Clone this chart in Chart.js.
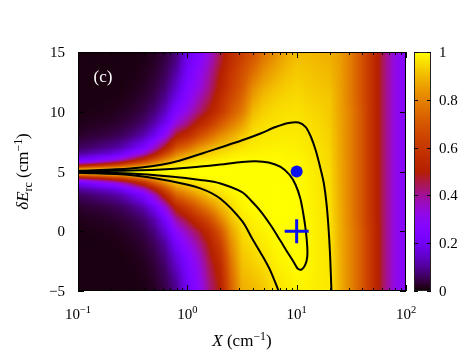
<!DOCTYPE html>
<html>
<head>
<meta charset="utf-8">
<script src="https://cdn.jsdelivr.net/npm/chart.js@4.4.1/dist/chart.umd.min.js"></script>
<style>
  html,body{margin:0;padding:0;background:#fff}
</style>
</head>
<body>
<canvas id="plot" width="469" height="358"></canvas>
<script>
// heatmap grid: column centres in X (cm^-1), row centres in dE_rc (cm^-1)
const xCenters = [0.1,0.126,0.158,0.2,0.251,0.316,0.398,0.501,0.631,0.794,1,1.26,1.58,2,2.51,3.16,3.98,5.01,6.31,7.94,10,12.6,15.8,20,25.1,31.6,39.8,50.1,63.1,79.4,100];
const yCenters = [15,14,13,12,11,10,9,8,7,6.5,6,5.75,5.5,5.25,5,4.75,4.5,4.25,4,3.5,3,2,1,0,-1,-2,-3,-4,-5];
// one array per X column, top row (15) first
const zByX = [
  [.01,.01,.01,.01,.01,.01,.015,.027,.059,.1,.2,.31,.5,.8,1,.8,.5,.31,.2,.1,.059,.027,.015,.01,.01,.01,.01,.01,.01],
  [.01,.01,.01,.01,.01,.012,.019,.033,.07,.12,.23,.35,.55,.83,1,.83,.55,.35,.23,.12,.07,.033,.019,.012,.01,.01,.01,.01,.01],
  [.01,.01,.01,.01,.01,.014,.022,.038,.083,.14,.27,.39,.59,.85,1,.85,.59,.39,.27,.14,.083,.038,.022,.014,.01,.01,.01,.01,.01],
  [.01,.01,.01,.01,.012,.017,.026,.046,.098,.16,.3,.44,.64,.88,1,.88,.64,.44,.3,.16,.098,.046,.026,.017,.012,.01,.01,.01,.01],
  [.01,.01,.01,.011,.015,.022,.034,.059,.12,.2,.36,.5,.69,.9,1,.9,.69,.5,.36,.2,.12,.059,.034,.022,.015,.011,.01,.01,.01],
  [.01,.01,.013,.016,.022,.031,.048,.083,.17,.27,.45,.59,.76,.93,1,.93,.76,.59,.45,.27,.17,.083,.048,.031,.022,.016,.013,.01,.01],
  [.012,.015,.018,.024,.033,.046,.07,.12,.23,.35,.55,.68,.83,.95,1,.95,.83,.68,.55,.35,.23,.12,.07,.046,.033,.024,.018,.015,.012],
  [.021,.025,.032,.041,.055,.078,.12,.19,.35,.48,.68,.79,.89,.97,1,.97,.9,.8,.69,.5,.36,.2,.12,.083,.059,.044,.034,.027,.022],
  [.038,.047,.059,.075,.1,.14,.2,.31,.5,.64,.8,.88,.94,.985,1,.987,.95,.89,.82,.67,.54,.34,.22,.16,.11,.086,.067,.054,.044],
  [.077,.094,.12,.15,.19,.25,.34,.49,.68,.79,.89,.94,.97,.99,1,.99,.98,.95,.91,.82,.72,.53,.39,.29,.22,.17,.14,.11,.093],
  [.18,.2,.22,.25,.28,.33,.42,.56,.75,.85,.93,.96,.985,.997,1,.997,.985,.965,.94,.87,.79,.62,.48,.38,.31,.26,.23,.21,.2],
  [.24,.27,.3,.32,.37,.42,.52,.66,.83,.9,.96,.975,.99,.998,1,.998,.99,.98,.965,.92,.86,.72,.58,.46,.4,.35,.32,.3,.28],
  [.33,.36,.39,.41,.45,.5,.6,.74,.88,.93,.97,.985,.995,1,1,1,.996,.99,.98,.955,.92,.8,.67,.56,.5,.47,.44,.42,.41],
  [.45,.47,.5,.52,.56,.6,.7,.82,.92,.955,.982,.99,.996,1,1,1,.998,.996,.99,.975,.955,.89,.8,.7,.63,.58,.54,.52,.5],
  [.55,.57,.6,.62,.66,.7,.78,.87,.94,.97,.988,.994,.997,.999,1,.999,.998,.997,.995,.99,.98,.95,.91,.86,.82,.79,.76,.74,.72],
  [.62,.65,.68,.7,.74,.78,.85,.92,.965,.982,.993,.996,.998,.999,1,.999,.999,.998,.998,.997,.994,.985,.968,.95,.935,.92,.905,.89,.88],
  [.68,.72,.77,.82,.86,.9,.935,.96,.975,.985,.993,.996,.998,.999,.999,.999,.999,.999,.999,.998,.997,.995,.985,.972,.96,.945,.93,.91,.895],
  [.76,.8,.84,.88,.91,.935,.955,.968,.98,.988,.993,.995,.997,.998,.998,.998,.999,.999,.999,.999,.998,.995,.992,.985,.975,.963,.95,.935,.92],
  [.82,.85,.88,.91,.935,.95,.962,.972,.982,.99,.993,.995,.996,.997,.998,.998,.999,.999,.999,1,1,1,.999,.996,.99,.983,.975,.965,.955],
  [.87,.89,.91,.93,.945,.957,.966,.975,.983,.987,.99,.992,.994,.995,.996,.997,.997,.997,.997,.998,.999,1,.999,.998,.997,.993,.985,.978,.97],
  [.9,.915,.93,.94,.952,.96,.966,.973,.98,.984,.987,.989,.99,.991,.992,.993,.994,.995,.995,.996,.997,.998,.999,.999,.998,.997,.995,.99,.985],
  [.9,.91,.92,.93,.94,.95,.958,.965,.972,.975,.978,.98,.981,.982,.983,.984,.984,.985,.985,.986,.987,.989,.99,.99,.99,.99,.988,.985,.982],
  [.89,.9,.91,.92,.93,.94,.948,.955,.96,.963,.965,.966,.967,.968,.969,.969,.97,.97,.97,.971,.972,.974,.975,.976,.976,.976,.976,.976,.976],
  [.88,.89,.9,.91,.92,.925,.93,.935,.94,.943,.945,.947,.948,.949,.95,.951,.951,.952,.953,.955,.956,.96,.963,.965,.967,.968,.969,.97,.97],
  [.85,.852,.854,.856,.858,.86,.862,.864,.866,.867,.868,.868,.869,.869,.87,.87,.871,.871,.872,.873,.874,.876,.878,.88,.881,.882,.883,.884,.885],
  [.78,.78,.78,.78,.78,.79,.79,.79,.79,.79,.79,.79,.79,.79,.79,.79,.79,.79,.79,.79,.79,.79,.79,.8,.8,.8,.8,.8,.8],
  [.68,.68,.68,.68,.68,.69,.69,.69,.69,.69,.69,.69,.69,.69,.69,.69,.69,.69,.69,.69,.69,.69,.69,.7,.7,.7,.7,.7,.7],
  [.56,.56,.56,.56,.56,.56,.56,.56,.56,.56,.56,.56,.56,.56,.56,.56,.56,.56,.56,.56,.56,.56,.56,.57,.57,.57,.57,.57,.57],
  [.43,.43,.43,.43,.43,.43,.43,.43,.43,.43,.43,.43,.43,.43,.43,.43,.43,.43,.43,.43,.43,.43,.43,.43,.43,.43,.43,.43,.43],
  [.32,.32,.32,.32,.32,.32,.32,.32,.32,.32,.32,.32,.32,.32,.32,.32,.32,.32,.32,.32,.32,.32,.32,.32,.32,.32,.32,.32,.32],
  [.27,.27,.27,.27,.27,.27,.27,.27,.27,.27,.27,.27,.27,.27,.27,.27,.27,.27,.27,.27,.27,.27,.27,.27,.27,.27,.27,.27,.27]
];

// contour lines (black)
const outerUpX = [0.1,0.3,0.698,1.316,2.008,3.126,4.67,6.41,8.45,10.43,12.1,13.4,14.9,16.3,17.7,18.8,19.7,20.3,20.8];
const outerUpY = [5.06,5.25,5.71,6.46,7.01,7.59,8.18,8.72,9.06,9.10,8.72,7.97,6.80,5.46,4.04,2.20,-0.15,-2.41,-5.0];
const outerLowX = [0.1,0.3,0.698,1.316,2.008,3.162,3.94,4.87,5.77,6.84];
const outerLowY = [4.9,4.71,4.21,3.59,2.72,0.86,-0.65,-2.07,-3.33,-5.0];
const innerX = [0.1,0.3,0.698,1.316,2.008,3.162,4.21,5.54,7.13,8.63,9.79,10.77,11.47,12.10,12.49,12.49,11.97,11.11,10.21,9.39,8.10,7.13,5.77,4.67,3.78,3.162,2.008,1.316,0.698,0.3,0.1];
const innerY = [5.02,5.08,5.21,5.42,5.59,5.80,5.86,5.75,5.38,4.71,3.87,2.78,1.53,0.10,-1.23,-2.16,-2.82,-3.20,-3.12,-2.57,-1.65,-0.82,0.52,1.69,2.62,3.28,4.00,4.29,4.58,4.83,4.94];

const dotPoint = {x:10, y:5};
const crossPoint = {x:10, y:0};

const xTicks = [0.1,1,10,100];
const xTickExp = ['\u22121','0','1','2'];
const xMinorTicks = [0.2,0.3,0.4,0.5,0.6,0.7,0.8,0.9,2,3,4,5,6,7,8,9,20,30,40,50,60,70,80,90];
const yTicks = [-5,0,5,10,15];
const cbTicks = [0,0.2,0.4,0.6,0.8,1];

const SERIF = '"Liberation Serif","DejaVu Serif",serif';

// gnuplot default palette (rgbformulae 7,5,15)
function palRGB(v){
  v = Math.max(0, Math.min(1, v));
  return [Math.sqrt(v)*255, v*v*v*255, Math.max(0, Math.sin(2*Math.PI*v))*255];
}
function pal(v){ const c = palRGB(v); return `rgb(${c.map(Math.round).join(',')})`; }

function zip(xs, ys){ return xs.map((x,i)=>({x, y: ys[i]})); }

// locate value in a sorted list, returns [index, fraction]
function locate(list, v, desc){
  const n = list.length;
  for(let i=0;i<n-1;i++){
    const a = list[i], b = list[i+1];
    if(desc ? (v<=a && v>=b) : (v>=a && v<=b)) return [i, (v-a)/(b-a)];
  }
  return desc ? (v>list[0] ? [0,0] : [n-2,1]) : (v<list[0] ? [0,0] : [n-2,1]);
}

// draw a list of text segments, supporting italic / sup / sub
function richText(ctx, segs, x, y, size, align){
  const parts = segs.map(s=>{
    const fs = (s.sup||s.sub) ? size*0.7 : size;
    const font = `${s.it?'italic ':''}${fs}px ${SERIF}`;
    ctx.font = font;
    return {s, font, w: ctx.measureText(s.t).width};
  });
  const total = parts.reduce((a,p)=>a+p.w,0);
  let cx = align==='center' ? x-total/2 : align==='right' ? x-total : x;
  ctx.textAlign = 'left';
  ctx.textBaseline = 'alphabetic';
  for(const p of parts){
    ctx.font = p.font;
    const dy = p.s.sup ? -size*0.38 : p.s.sub ? size*0.22 : 0;
    ctx.fillText(p.s.t, cx, y+dy);
    cx += p.w;
  }
}

const heatPlugin = {
  id:'heat',
  beforeDatasetsDraw(chart){
    const {ctx, chartArea:a, scales:{x, y}} = chart;
    const w = Math.round(a.width), h = Math.round(a.height);
    const img = ctx.createImageData(w, h);
    const logX = xCenters.map(Math.log10);
    const cols = [];
    for(let px=0; px<w; px++) cols.push(locate(logX, Math.log10(x.getValueForPixel(a.left+px+0.5)), false));
    for(let py=0; py<h; py++){
      const [j, ty] = locate(yCenters, y.getValueForPixel(a.top+py+0.5), true);
      for(let px=0; px<w; px++){
        const [i, tx] = cols[px];
        const z00 = zByX[i][j], z10 = zByX[i+1][j], z01 = zByX[i][j+1], z11 = zByX[i+1][j+1];
        const v = (z00*(1-tx)+z10*tx)*(1-ty) + (z01*(1-tx)+z11*tx)*ty;
        const c = palRGB(v), k = (py*w+px)*4;
        img.data[k]=c[0]; img.data[k+1]=c[1]; img.data[k+2]=c[2]; img.data[k+3]=255;
      }
    }
    ctx.putImageData(img, Math.round(a.left), Math.round(a.top));
  }
};

const framePlugin = {
  id:'frame',
  afterDraw(chart){
    const {ctx, chartArea:a, scales:{x, y, cb}} = chart;
    ctx.save();
    // (c) label
    ctx.fillStyle = '#fff';
    richText(ctx, [{t:'(c)'}], 103, 82, 17, 'center');

    // ticks, all four sides, pointing inward
    ctx.strokeStyle = '#000'; ctx.lineWidth = 1;
    ctx.beginPath();
    for(const v of xTicks){
      const px = Math.round(x.getPixelForValue(v))+0.5;
      ctx.moveTo(px, a.bottom); ctx.lineTo(px, a.bottom-6);
      ctx.moveTo(px, a.top); ctx.lineTo(px, a.top+6);
    }
    for(const v of xMinorTicks){
      const px = Math.round(x.getPixelForValue(v))+0.5;
      ctx.moveTo(px, a.bottom); ctx.lineTo(px, a.bottom-3);
      ctx.moveTo(px, a.top); ctx.lineTo(px, a.top+3);
    }
    for(const v of yTicks){
      const py = Math.round(y.getPixelForValue(v))+0.5;
      ctx.moveTo(a.left, py); ctx.lineTo(a.left+6, py);
      ctx.moveTo(a.right, py); ctx.lineTo(a.right-6, py);
    }
    ctx.stroke();
    ctx.strokeRect(a.left+0.5, a.top+0.5, a.width-1, a.height-1);

    // tick labels
    ctx.fillStyle = '#000';
    xTicks.forEach((v,i)=>{
      richText(ctx, [{t:'10'},{t:xTickExp[i], sup:true}], x.getPixelForValue(v), 319, 15, 'center');
    });
    yTicks.forEach(v=>{
      richText(ctx, [{t: v<0 ? '\u2212'+(-v) : String(v)}], 65, y.getPixelForValue(v)+5, 15, 'right');
    });

    // axis titles
    richText(ctx, [{t:'X', it:true},{t:' (cm'},{t:'\u22121', sup:true},{t:')'}], (a.left+a.right)/2, 346, 17, 'center');
    ctx.save();
    ctx.translate(22, (a.top+a.bottom)/2);
    ctx.rotate(-Math.PI/2);
    richText(ctx, [{t:'\u03b4E', it:true},{t:'rc', sub:true},{t:' (cm'},{t:'\u22121', sup:true},{t:')'}], 0, 6, 17, 'center');
    ctx.restore();

    // colour bar
    const bx0 = 414, bx1 = 431;
    const top = cb.getPixelForValue(1), bot = cb.getPixelForValue(0);
    for(let py=Math.floor(top); py<Math.ceil(bot); py++){
      ctx.fillStyle = pal(cb.getValueForPixel(py+0.5));
      ctx.fillRect(bx0, py, bx1-bx0, 1);
    }
    ctx.strokeStyle = '#222';
    ctx.strokeRect(bx0+0.5, top+0.5, bx1-bx0-1, bot-top-1);
    ctx.beginPath();
    ctx.strokeStyle = '#000';
    for(const v of cbTicks){
      const py = Math.round(cb.getPixelForValue(v))+0.5;
      ctx.moveTo(bx0, py); ctx.lineTo(bx0+4, py);
      ctx.moveTo(bx1, py); ctx.lineTo(bx1-4, py);
    }
    ctx.stroke();
    ctx.fillStyle = '#000';
    cbTicks.forEach(v=>{
      richText(ctx, [{t:String(v)}], 439, cb.getPixelForValue(v)+5, 15, 'left');
    });
    ctx.restore();
  }
};

const lineStyle = {showLine:true, borderColor:'#000', borderWidth:2, pointRadius:0, tension:0.3, fill:false, order:1};

new Chart(document.getElementById('plot'), {
  type:'scatter',
  data:{
    datasets:[
      {...lineStyle, data: zip(outerUpX, outerUpY)},
      {...lineStyle, data: zip(outerLowX, outerLowY)},
      {...lineStyle, data: zip(innerX, innerY)},
      {data:[dotPoint], pointRadius:6, pointBackgroundColor:'#0a10f0', pointBorderColor:'#0a10f0', pointBorderWidth:0, order:0},
      {data:[crossPoint], pointStyle:'cross', pointRadius:12, pointBorderColor:'#0a10f0', pointBorderWidth:3, order:0}
    ]
  },
  options:{
    responsive:false,
    animation:false,
    events:[],
    layout:{padding:{left:78, right:63, top:52, bottom:67}},
    plugins:{legend:{display:false}, tooltip:{enabled:false}},
    scales:{
      x:{type:'logarithmic', min:0.1, max:100, display:false},
      y:{type:'linear', min:-5, max:15, display:false},
      cb:{type:'linear', axis:'y', min:0, max:1, display:false}
    }
  },
  plugins:[heatPlugin, framePlugin]
});
</script>
</body>
</html>
